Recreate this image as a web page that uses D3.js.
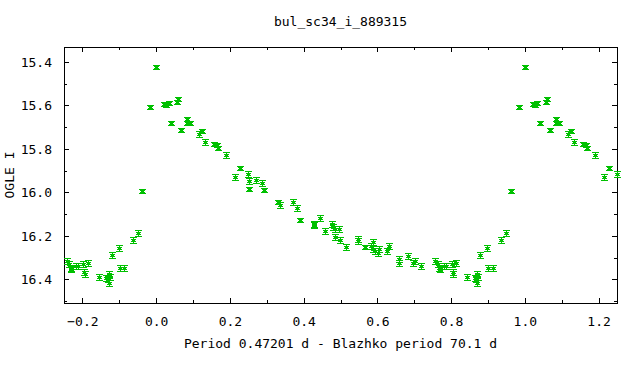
<!DOCTYPE html>
<html>
<head>
<meta charset="utf-8">
<script src="https://cdn.jsdelivr.net/npm/d3@7"></script>
<style>
  body { margin: 0; background: #fff; }
  text { font-family: "DejaVu Sans Mono", monospace; font-size: 13px; fill: #000; }
</style>
</head>
<body>
<div id="chart"></div>
<script>
// phase-folded light curve, one cycle; copies at phase +/- 1 are drawn as well
const phase = [
  0.000, 0.984, 0.022, 0.027, 0.034, 0.057, 0.060, 0.040, 0.068, 0.084,
  0.084, 0.092, 0.117, 0.125, 0.133, 0.157, 0.165, 0.168, 0.190, 0.228,
  0.214, 0.250, 0.252, 0.253, 0.271, 0.288, 0.293, 0.331, 0.337, 0.372,
  0.383, 0.391, 0.429, 0.429, 0.445, 0.457, 0.478, 0.479, 0.485, 0.497,
  0.486, 0.498, 0.516, 0.548, 0.548, 0.567, 0.583, 0.589, 0.587, 0.594,
  0.603, 0.605, 0.626, 0.632, 0.660, 0.660, 0.684, 0.696, 0.701, 0.717,
  0.757, 0.764, 0.768, 0.770, 0.782, 0.787, 0.802, 0.814, 0.805, 0.806,
  0.844, 0.865, 0.871, 0.874, 0.868, 0.871, 0.901, 0.914, 0.879, 0.898,
  0.936, 0.950, 0.962
]
const mag = [
  15.424, 15.605, 15.594, 15.597, 15.590, 15.582, 15.570, 15.682, 15.714, 15.662,
  15.679, 15.682, 15.732, 15.719, 15.769, 15.778, 15.782, 15.797, 15.828, 15.889,
  15.930, 15.915, 15.949, 15.984, 15.943, 15.958, 15.990, 16.045, 16.059, 16.045,
  16.073, 16.128, 16.145, 16.152, 16.119, 16.177, 16.145, 16.157, 16.169, 16.169,
  16.206, 16.220, 16.252, 16.213, 16.222, 16.252, 16.245, 16.229, 16.261, 16.272,
  16.277, 16.261, 16.268, 16.246, 16.307, 16.323, 16.292, 16.326, 16.318, 16.337,
  16.315, 16.329, 16.349, 16.353, 16.337, 16.339, 16.329, 16.326, 16.367, 16.376,
  16.390, 16.395, 16.375, 16.390, 16.398, 16.415, 16.346, 16.349, 16.289, 16.256,
  16.220, 16.188, 15.994
]
const magErr = [
  0.008, 0.010, 0.010, 0.010, 0.010, 0.010, 0.010, 0.010, 0.010, 0.010,
  0.010, 0.010, 0.012, 0.010, 0.012, 0.010, 0.010, 0.010, 0.012, 0.010,
  0.012, 0.012, 0.012, 0.010, 0.012, 0.012, 0.010, 0.010, 0.012, 0.014,
  0.012, 0.010, 0.012, 0.012, 0.012, 0.012, 0.012, 0.012, 0.012, 0.012,
  0.012, 0.012, 0.012, 0.012, 0.012, 0.010, 0.012, 0.012, 0.012, 0.012,
  0.012, 0.012, 0.012, 0.012, 0.014, 0.014, 0.012, 0.012, 0.014, 0.014,
  0.014, 0.014, 0.014, 0.014, 0.014, 0.014, 0.014, 0.014, 0.016, 0.016,
  0.014, 0.014, 0.014, 0.014, 0.014, 0.016, 0.016, 0.014, 0.014, 0.014,
  0.014, 0.014, 0.010
]
const xTicks = [-0.2, 0.0, 0.2, 0.4, 0.6, 0.8, 1.0, 1.2]
const yTicks = [15.4, 15.6, 15.8, 16.0, 16.2, 16.4]

const width = 640
const height = 384
const mLeft = 64, mRight = 617, mTop = 47, mBottom = 303
const green = '#00c000'

const svg = d3.select('#chart').append('svg')
  .attr('width', width)
  .attr('height', height)

const x = d3.scaleLinear().domain([-0.25, 1.25]).range([mLeft, mRight])
const y = d3.scaleLinear().domain([15.331, 16.509]).range([mTop, mBottom])

const xMinor = d3.range(-0.2, 1.25, 0.1).map(v => +v.toFixed(1))
const yMinor = d3.range(15.4, 16.51, 0.1).map(v => +v.toFixed(1))

// ticks on all four sides, pointing inward
const tickLine = (g, axis) => g.call(axis).call(s => s.select('.domain').remove())
  .call(s => s.selectAll('line').attr('stroke', '#000').attr('shape-rendering', 'crispEdges'))

svg.append('g').attr('transform', `translate(0,${mBottom})`)
  .call(g => tickLine(g, d3.axisBottom(x).tickValues(xMinor).tickSize(-3).tickFormat('')))
svg.append('g').attr('transform', `translate(0,${mBottom})`)
  .call(g => tickLine(g, d3.axisBottom(x).tickValues(xTicks).tickSize(-5).tickPadding(14).tickFormat(d3.format('.1f'))))
svg.append('g').attr('transform', `translate(0,${mTop})`)
  .call(g => tickLine(g, d3.axisTop(x).tickValues(xMinor).tickSize(-3).tickFormat('')))
svg.append('g').attr('transform', `translate(0,${mTop})`)
  .call(g => tickLine(g, d3.axisTop(x).tickValues(xTicks).tickSize(-5).tickFormat('')))
svg.append('g').attr('transform', `translate(${mLeft},0)`)
  .call(g => tickLine(g, d3.axisLeft(y).tickValues(yMinor).tickSize(-3).tickFormat('')))
svg.append('g').attr('transform', `translate(${mLeft},0)`)
  .call(g => tickLine(g, d3.axisLeft(y).tickValues(yTicks).tickSize(-5).tickPadding(12).tickFormat(d3.format('.1f'))))
svg.append('g').attr('transform', `translate(${mRight},0)`)
  .call(g => tickLine(g, d3.axisRight(y).tickValues(yMinor).tickSize(-3).tickFormat('')))
svg.append('g').attr('transform', `translate(${mRight},0)`)
  .call(g => tickLine(g, d3.axisRight(y).tickValues(yTicks).tickSize(-5).tickFormat('')))

svg.selectAll('.tick text')
  .style('font-family', '"DejaVu Sans Mono", monospace')
  .style('font-size', '13px')
  .attr('fill', '#000')

svg.append('rect')
  .attr('x', mLeft + 0.5).attr('y', mTop + 0.5)
  .attr('width', mRight - mLeft).attr('height', mBottom - mTop)
  .attr('fill', 'none').attr('stroke', '#000')
  .attr('shape-rendering', 'crispEdges')

// points: each folded phase drawn at shift -1, 0, +1 when inside the range
const points = []
phase.forEach((p, i) => {
  [-1, 0, 1].forEach(s => {
    const ph = p + s
    if (ph >= -0.25 && ph <= 1.25) points.push({ ph, m: mag[i], e: magErr[i] })
  })
})

// filled pixel boxes: error bar, caps and a small cross
const box = (x0, y0, w, h) => `M${x0},${y0}h${w}v${h}h${-w}z`
const marker = d => {
  const cx = Math.round(x(d.ph))
  const cy = Math.round(y(d.m))
  const h = Math.max(2, Math.round(y(d.m + d.e) - y(d.m)))
  return box(cx, cy - h, 1, 2 * h + 1) +
    box(cx - 3, cy - h, 7, 1) + box(cx - 3, cy + h, 7, 1) +
    box(cx - 2, cy - 1, 5, 1) + box(cx - 1, cy, 3, 1) + box(cx - 2, cy + 1, 5, 1)
}

svg.append('g')
  .selectAll('path')
  .data(points)
  .join('path')
  .attr('d', marker)
  .attr('fill', green)
  .attr('stroke', 'none')
  .attr('shape-rendering', 'crispEdges')

svg.append('text')
  .attr('x', (mLeft + mRight) / 2).attr('y', 26)
  .attr('text-anchor', 'middle')
  .text('bul_sc34_i_889315')

svg.append('text')
  .attr('x', (mLeft + mRight) / 2).attr('y', 348)
  .attr('text-anchor', 'middle')
  .text('Period 0.47201 d - Blazhko period 70.1 d')

svg.append('text')
  .attr('transform', `translate(14,${(mTop + mBottom) / 2}) rotate(-90)`)
  .attr('text-anchor', 'middle')
  .text('OGLE I')
</script>
</body>
</html>
